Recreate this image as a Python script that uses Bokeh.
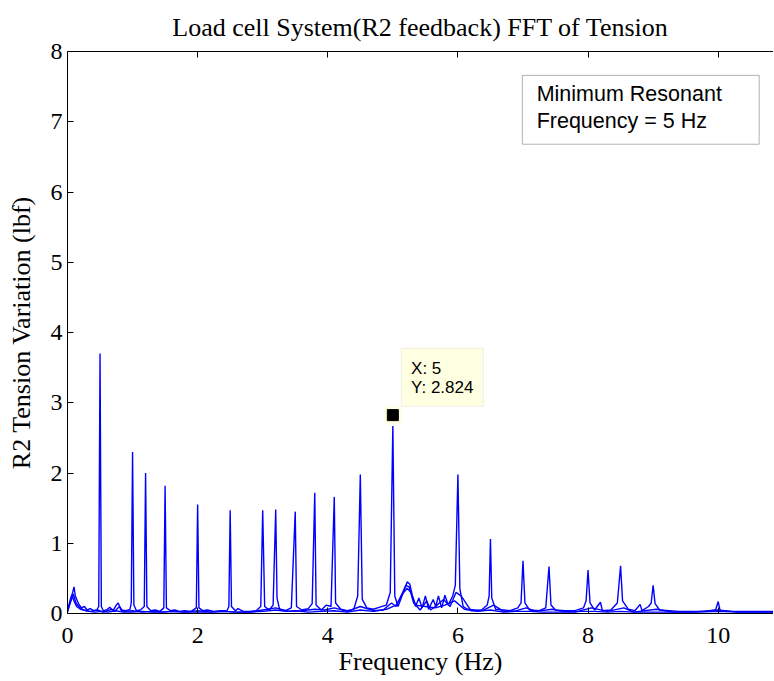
from bokeh.plotting import figure
from bokeh.models import Range1d, FixedTicker, LinearAxis, BoxAnnotation, Label
from bokeh.embed import file_html
from bokeh.resources import INLINE

title_text = "Load cell System(R2 feedback) FFT of Tension"
x_label = "Frequency (Hz)"
y_label = "R2 Tension Variation (lbf)"
x_ticks = [0, 2, 4, 6, 8, 10]
y_ticks = [0, 1, 2, 3, 4, 5, 6, 7, 8]

# main spectrum trace: (frequency Hz, amplitude lbf)
trace_a = [
    (0.00, 0.05), (0.05, 0.22), (0.08, 0.30), (0.10, 0.38), (0.12, 0.25), (0.15, 0.18),
    (0.18, 0.12), (0.22, 0.08), (0.26, 0.10), (0.30, 0.05), (0.35, 0.07), (0.40, 0.04),
    (0.45, 0.05), (0.48, 0.10), (0.50, 3.70), (0.52, 0.10), (0.55, 0.04), (0.60, 0.05),
    (0.65, 0.09), (0.70, 0.04), (0.75, 0.12), (0.78, 0.15), (0.82, 0.05), (0.90, 0.04),
    (0.96, 0.06), (0.98, 0.15), (1.00, 2.30), (1.02, 0.12), (1.06, 0.04), (1.12, 0.05),
    (1.18, 0.10), (1.20, 2.00), (1.22, 0.10), (1.28, 0.04), (1.35, 0.05), (1.42, 0.03),
    (1.48, 0.08), (1.50, 1.82), (1.52, 0.08), (1.58, 0.04), (1.65, 0.05), (1.72, 0.03),
    (1.80, 0.04), (1.90, 0.03), (1.98, 0.08), (2.00, 1.55), (2.02, 0.08), (2.08, 0.04),
    (2.15, 0.05), (2.25, 0.03), (2.35, 0.04), (2.45, 0.04), (2.48, 0.10), (2.50, 1.47),
    (2.52, 0.10), (2.58, 0.04), (2.62, 0.07), (2.70, 0.03), (2.80, 0.03), (2.90, 0.04),
    (2.97, 0.10), (3.00, 1.47), (3.03, 0.10), (3.10, 0.05), (3.16, 0.12), (3.20, 1.48),
    (3.22, 0.22), (3.26, 0.06), (3.35, 0.04), (3.44, 0.08), (3.50, 1.45), (3.52, 0.10),
    (3.60, 0.05), (3.70, 0.07), (3.76, 0.14), (3.80, 1.72), (3.82, 0.12), (3.90, 0.05),
    (3.98, 0.12), (4.05, 0.10), (4.10, 1.66), (4.12, 0.15), (4.20, 0.06), (4.30, 0.04),
    (4.40, 0.06), (4.46, 0.25), (4.50, 1.98), (4.53, 0.20), (4.60, 0.08), (4.70, 0.06),
    (4.80, 0.09), (4.90, 0.12), (4.96, 0.30), (5.00, 2.67), (5.03, 0.25), (5.08, 0.10),
    (5.12, 0.20), (5.18, 0.35), (5.22, 0.45), (5.26, 0.42), (5.30, 0.25), (5.35, 0.10),
    (5.40, 0.22), (5.45, 0.08), (5.50, 0.25), (5.55, 0.06), (5.62, 0.20), (5.66, 0.10),
    (5.70, 0.25), (5.75, 0.08), (5.80, 0.26), (5.85, 0.12), (5.92, 0.25), (5.96, 0.40),
    (6.00, 1.98), (6.03, 0.35), (6.08, 0.10), (6.15, 0.06), (6.25, 0.05), (6.35, 0.04),
    (6.45, 0.12), (6.48, 0.25), (6.50, 1.06), (6.52, 0.22), (6.58, 0.06), (6.70, 0.05),
    (6.80, 0.04), (6.92, 0.08), (6.97, 0.15), (7.00, 0.75), (7.03, 0.15), (7.10, 0.05),
    (7.25, 0.04), (7.35, 0.08), (7.40, 0.67), (7.43, 0.12), (7.50, 0.05), (7.65, 0.04),
    (7.80, 0.04), (7.93, 0.08), (7.97, 0.18), (8.00, 0.62), (8.03, 0.15), (8.10, 0.05),
    (8.19, 0.16), (8.22, 0.04), (8.35, 0.05), (8.45, 0.15), (8.50, 0.68), (8.53, 0.18),
    (8.62, 0.06), (8.72, 0.04), (8.80, 0.13), (8.83, 0.04), (8.93, 0.10), (8.97, 0.15),
    (9.00, 0.40), (9.03, 0.14), (9.10, 0.05), (9.25, 0.04), (9.40, 0.03), (9.60, 0.03),
    (9.80, 0.03), (9.96, 0.05), (10.00, 0.17), (10.03, 0.04), (10.20, 0.03), (10.40, 0.03),
    (10.60, 0.03), (10.85, 0.03),
]

trace_b = [
    (0.00, 0.02), (0.04, 0.15), (0.07, 0.25), (0.10, 0.18), (0.14, 0.10), (0.20, 0.06),
    (0.28, 0.04), (0.36, 0.03), (0.46, 0.05), (0.55, 0.02), (0.68, 0.06), (0.72, 0.03),
    (0.80, 0.10), (0.85, 0.03), (1.00, 0.04), (1.15, 0.02), (1.30, 0.03), (1.45, 0.02),
    (1.60, 0.03), (1.80, 0.02), (2.00, 0.04), (2.20, 0.02), (2.40, 0.03), (2.60, 0.02),
    (2.80, 0.02), (3.00, 0.05), (3.20, 0.08), (3.40, 0.03), (3.60, 0.04), (3.80, 0.06),
    (3.95, 0.05), (4.10, 0.08), (4.30, 0.03), (4.50, 0.10), (4.70, 0.04), (4.85, 0.05),
    (4.98, 0.15), (5.05, 0.10), (5.15, 0.30), (5.20, 0.40), (5.25, 0.38), (5.32, 0.15),
    (5.42, 0.05), (5.52, 0.18), (5.58, 0.05), (5.68, 0.12), (5.78, 0.20), (5.88, 0.10),
    (5.97, 0.30), (6.05, 0.25), (6.20, 0.04), (6.40, 0.05), (6.55, 0.12), (6.70, 0.03),
    (6.90, 0.04), (7.05, 0.08), (7.20, 0.03), (7.45, 0.06), (7.60, 0.03), (7.80, 0.02),
    (8.05, 0.08), (8.30, 0.03), (8.55, 0.08), (8.70, 0.02), (9.05, 0.06), (9.30, 0.02),
    (9.60, 0.02), (10.00, 0.05), (10.30, 0.02), (10.60, 0.02), (10.85, 0.02),
]

trace_c = [
    (0.00, 0.03), (0.03, 0.12), (0.06, 0.20), (0.09, 0.28), (0.13, 0.15), (0.18, 0.09),
    (0.25, 0.05), (0.33, 0.03), (0.42, 0.02), (0.52, 0.03), (0.62, 0.02), (0.74, 0.04),
    (0.86, 0.02), (1.00, 0.02), (1.15, 0.03), (1.30, 0.02), (1.45, 0.02), (1.62, 0.03),
    (1.80, 0.02), (2.00, 0.02), (2.20, 0.02), (2.40, 0.03), (2.60, 0.02), (2.80, 0.02),
    (3.00, 0.03), (3.20, 0.05), (3.35, 0.03), (3.50, 0.04), (3.70, 0.02), (3.90, 0.03),
    (4.10, 0.04), (4.30, 0.02), (4.50, 0.05), (4.70, 0.03), (4.90, 0.06), (5.05, 0.12),
    (5.15, 0.28), (5.22, 0.36), (5.28, 0.30), (5.35, 0.12), (5.50, 0.10), (5.65, 0.08),
    (5.80, 0.12), (5.95, 0.18), (6.10, 0.06), (6.30, 0.03), (6.50, 0.05), (6.70, 0.02),
    (6.90, 0.03), (7.10, 0.03), (7.30, 0.02), (7.50, 0.02), (7.70, 0.02), (7.90, 0.03),
    (8.10, 0.03), (8.30, 0.02), (8.50, 0.03), (8.70, 0.02), (8.90, 0.02), (9.10, 0.02),
    (9.40, 0.02), (9.70, 0.02), (10.00, 0.03), (10.30, 0.02), (10.60, 0.02), (10.85, 0.02),
]

traces = [trace_a, trace_b, trace_c]

peak_x = 5
peak_y = 2.824
note_lines = ["Minimum Resonant", "Frequency = 5 Hz"]

SERIF = "Liberation Serif"
SANS = "Liberation Sans"

p = figure(width=773, height=681, output_backend="svg", toolbar_location=None,
           x_range=Range1d(0, 10.85), y_range=Range1d(0, 8),
           min_border_left=67, min_border_right=0, min_border_top=49, min_border_bottom=68)
p.outline_line_color = None
p.background_fill_color = "white"
p.border_fill_color = "white"
p.xgrid.visible = False
p.ygrid.visible = False

p.title.text = title_text
p.title.align = "center"
p.title.text_font = SERIF
p.title.text_font_size = "26px"
p.title.text_font_style = "normal"
p.title.text_color = "black"
p.title.standoff = 20

for ax in (p.xaxis[0], p.yaxis[0]):
    ax.major_tick_in = 6
    ax.major_tick_out = 0
    ax.minor_tick_line_color = None
    ax.axis_line_color = "black"
    ax.major_tick_line_color = "black"
    ax.major_label_text_font = SERIF
    ax.major_label_text_font_size = "24px"
    ax.major_label_text_color = "black"
    ax.axis_label_text_font = SERIF
    ax.axis_label_text_font_size = "26px"
    ax.axis_label_text_font_style = "normal"
    ax.axis_label_text_color = "black"

p.xaxis[0].ticker = FixedTicker(ticks=x_ticks)
p.yaxis[0].ticker = FixedTicker(ticks=y_ticks)
p.xaxis[0].axis_label = x_label
p.yaxis[0].axis_label = y_label
p.xaxis[0].major_label_standoff = 14
p.xaxis[0].axis_label_standoff = 1
p.yaxis[0].major_label_standoff = 5
p.yaxis[0].axis_label_standoff = 12

top_ax = LinearAxis(ticker=FixedTicker(ticks=x_ticks))
top_ax.major_tick_in = 6
top_ax.major_tick_out = 0
top_ax.minor_tick_line_color = None
top_ax.major_label_text_font_size = "0px"
top_ax.major_label_text_color = None
top_ax.major_label_standoff = 0
top_ax.axis_line_color = "black"
p.add_layout(top_ax, "above")

p.multi_line(xs=[[f for f, a in t] for t in traces],
             ys=[[a for f, a in t] for t in traces],
             line_color="#0000ff", line_width=1.4)

# data tip marker
p.scatter([peak_x], [peak_y], marker="square", size=17, fill_color="#ffffe1", line_color=None)
p.scatter([peak_x], [peak_y], marker="square", size=11, fill_color="black", line_color="black")

# data tip box
p.add_layout(BoxAnnotation(left=5.13, right=6.39, bottom=2.95, top=3.775,
                           fill_color="#ffffe1", fill_alpha=1,
                           line_color="#c8c8c8", line_width=1))
p.add_layout(Label(x=5.28, y=3.49, text=f"X: {peak_x:g}", text_font=SANS,
                   text_font_size="17px", text_baseline="middle", text_color="black"))
p.add_layout(Label(x=5.28, y=3.22, text=f"Y: {peak_y}", text_font=SANS,
                   text_font_size="17px", text_baseline="middle", text_color="black"))

# annotation text box
p.add_layout(BoxAnnotation(left=6.99, right=10.63, bottom=6.68, top=7.66,
                           fill_color="white", fill_alpha=1,
                           line_color="black", line_width=1))
p.add_layout(Label(x=7.21, y=7.40, text=note_lines[0], text_font=SANS,
                   text_font_size="21.5px", text_baseline="middle", text_color="black"))
p.add_layout(Label(x=7.21, y=7.01, text=note_lines[1], text_font=SANS,
                   text_font_size="21.5px", text_baseline="middle", text_color="black"))

open("out.html", "w").write(file_html(p, INLINE))
